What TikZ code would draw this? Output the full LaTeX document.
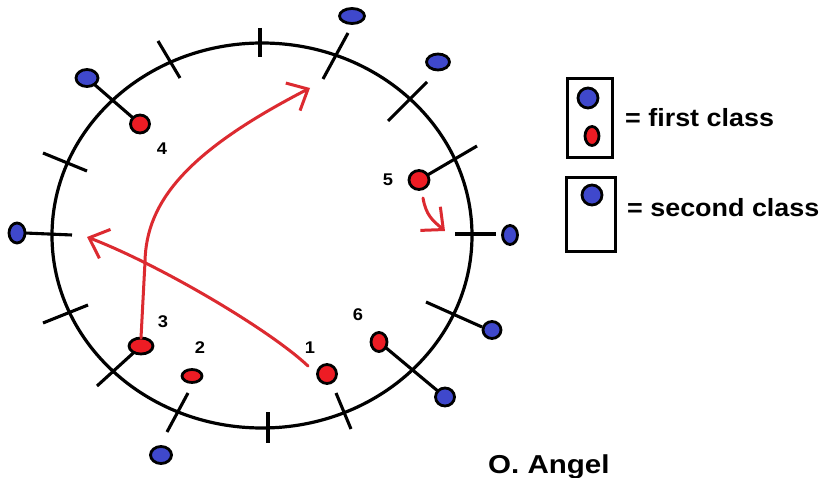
\documentclass[tikz,border=0pt]{standalone}
\usepackage{fontspec}
\setmainfont{Liberation Sans}
\newfontfamily\legendfont[FakeStretch=1.08]{Liberation Sans}
\newfontfamily\authorfont[FakeStretch=1.14]{Liberation Sans}
\usetikzlibrary{shapes.geometric,arrows.meta}
\definecolor{pblue}{HTML}{3F48CC}
\definecolor{pred}{HTML}{ED1C24}
\definecolor{parrow}{HTML}{DC2A30}
\begin{document}
\begin{tikzpicture}[x=1bp,y=-1bp,
  dot/.style={ellipse,draw=black,line width=2.8bp,inner sep=0pt,outer sep=0pt},
  bdot/.style={dot,fill=pblue},
  rdot/.style={dot,fill=pred},
  tickline/.style={line width=3.1bp},
  arr/.style={draw=parrow,line width=3bp,line cap=round,
    -{Straight Barb[length=17bp,width=31bp]}},
  lbl/.style={inner sep=0pt,font=\legendfont\bfseries\fontsize{25}{30}\selectfont},
  num/.style={inner sep=0pt,font=\legendfont\bfseries\fontsize{17}{20}\selectfont}
]
\useasboundingbox[fill=white] (0,0) rectangle (822,478);

% main ring
\node[ellipse,draw,line width=3.2bp,minimum width=420bp,minimum height=385bp,inner sep=0pt] (ring) at (262,235.5) {};

% blue markers
\node[bdot,minimum width=22bp,minimum height=17bp] (B1) at (87,78) {};
\node[bdot,minimum width=16bp,minimum height=20bp] (B2) at (17,233) {};
\node[bdot,minimum width=21bp,minimum height=17bp] (B3) at (161,455) {};
\node[bdot,minimum width=19bp,minimum height=18bp] (B4) at (445,397) {};
\node[bdot,minimum width=18bp,minimum height=17bp] (B5) at (492,330) {};
\node[bdot,minimum width=15bp,minimum height=19bp] (B6) at (510,235) {};
\node[bdot,minimum width=23bp,minimum height=16bp] (B7) at (438,62) {};
\node[bdot,minimum width=25bp,minimum height=15bp] (B8) at (352,16) {};

% red markers
\node[rdot,minimum width=19bp,minimum height=18bp] (R4) at (140,124) {};
\node[rdot,minimum width=24bp,minimum height=16bp] (R3) at (141,346) {};
\node[rdot,minimum width=20bp,minimum height=13bp] (R2) at (192,376) {};
\node[rdot,minimum width=19bp,minimum height=19bp] (R1) at (327,374) {};
\node[rdot,minimum width=16bp,minimum height=19bp] (R6) at (379,342) {};
\node[rdot,minimum width=20bp,minimum height=19bp] (R5) at (419,180) {};

% ticks and links
\coordinate (r3e) at (97,386);
\coordinate (r5e) at (477,146);
\draw[tickline] (260,28) -- (260,57);
\draw[tickline] (158,41) -- (180,78);
\draw[tickline] (B1) -- (R4);
\draw[tickline] (43,153) -- (87,171);
\draw[tickline] (B2.east) -- (72,235);
\draw[tickline] (43,323) -- (88,305);
\draw[tickline] (R3) -- (r3e);
\draw[tickline] (188,393) -- (167,432);
\draw[tickline] (268,412) -- (268,443);
\draw[tickline] (336,393) -- (351,429);
\draw[tickline] (R6) -- (B4);
\draw[tickline] (426,302) -- (482,327);
\draw[tickline] (455,234) -- (496,234);
\draw[tickline] (R5) -- (r5e);
\draw[tickline] (427,82) -- (388,121);
\draw[tickline] (348,33) -- (323,79);

% moves
\coordinate (a1) at (145,262);
\coordinate (a2) at (310,88);
\coordinate (b0) at (308,366);
\coordinate (b1) at (87,237);
\coordinate (c0) at (423,198);
\coordinate (c1) at (445,231);
\draw[arr] (R3.north) -- (a1) .. controls (146,200) and (190,150) .. (a2);
\draw[arr] (b0) .. controls (270,330) and (160,265) .. (b1);
\draw[arr] (c0) .. controls (426,215) and (432,220) .. (c1);

% labels
\node[num] (n4) at (162,149) {4};
\node[num] (n3) at (163,322) {3};
\node[num] (n2) at (200,348) {2};
\node[num] (n1) at (310,348) {1};
\node[num] (n6) at (358,315) {6};
\node[num] (n5) at (388,180) {5};

% legend
\node[draw,line width=3bp,minimum width=45bp,minimum height=79bp,inner sep=0pt] (box1) at (589.5,118.5) {};
\node[draw,line width=3bp,minimum width=49bp,minimum height=74bp,inner sep=0pt] (box2) at (590.5,215) {};
\node[bdot,minimum width=20bp,minimum height=20bp] (LB1) at (588,98) {};
\node[rdot,minimum width=14bp,minimum height=19bp] (LR1) at (592,136) {};
\node[bdot,minimum width=20bp,minimum height=20bp] (LB2) at (592,195) {};
\node[lbl,anchor=base west] (t1) at (625,127) {= first class};
\node[lbl,anchor=base west] (t2) at (627,217) {= second class};
\node[inner sep=0pt,anchor=base west,font=\authorfont\bfseries\fontsize{26}{30}\selectfont] (t3) at (488,473) {O. Angel};
\end{tikzpicture}
\end{document}
